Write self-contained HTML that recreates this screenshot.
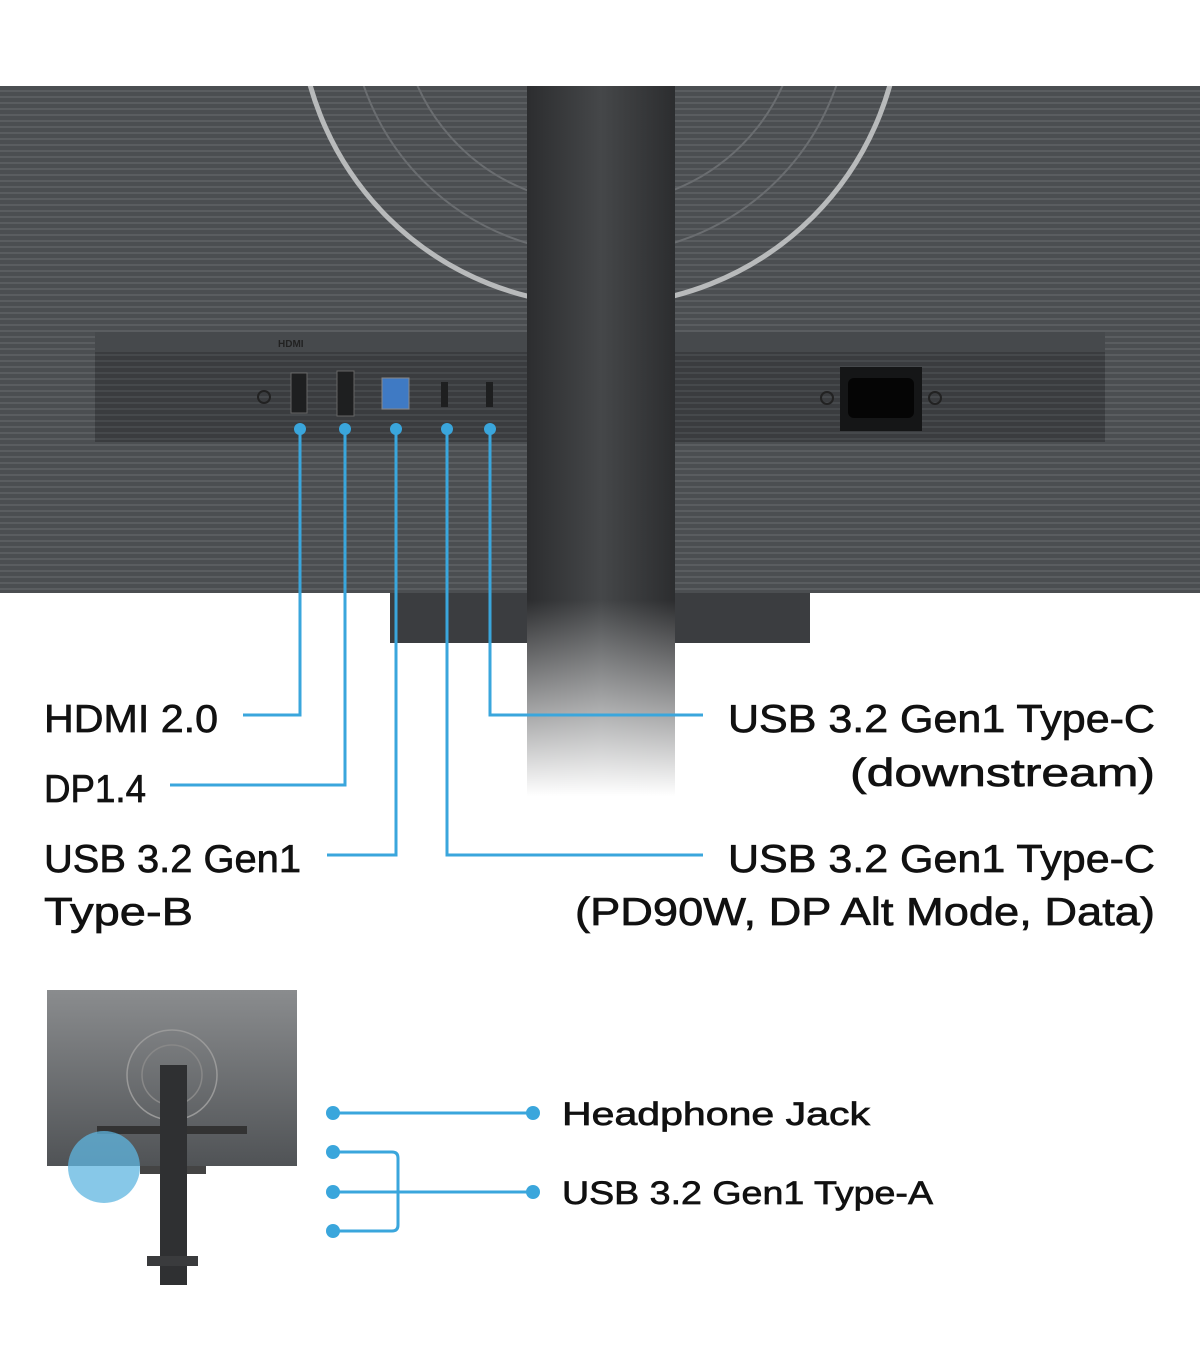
<!DOCTYPE html>
<html><head><style>
body{margin:0;background:#fff;}
svg{display:block}
text{font-family:"Liberation Sans",sans-serif;fill:#111;stroke:#111;stroke-width:0.7;}
</style></head><body>
<svg width="1200" height="1372" viewBox="0 0 1200 1372" xmlns="http://www.w3.org/2000/svg">
<defs>
<pattern id="st" width="6" height="6" patternUnits="userSpaceOnUse">
<rect width="6" height="6" fill="#4b4e51"/><rect width="6" height="2" fill="#5a5d60"/>
</pattern>
<pattern id="st2" width="6" height="6" patternUnits="userSpaceOnUse">
<rect width="6" height="6" fill="#3a3c3f"/><rect width="6" height="2" fill="#46494c"/>
</pattern>
<linearGradient id="neck" x1="0" x2="1">
<stop offset="0" stop-color="#2c2d2f"/><stop offset="0.5" stop-color="#454749"/><stop offset="1" stop-color="#2c2d2f"/>
</linearGradient>
<linearGradient id="fade" x1="0" y1="0" x2="0" y2="1">
<stop offset="0" stop-color="#fff" stop-opacity="0"/><stop offset="1" stop-color="#fff" stop-opacity="1"/>
</linearGradient>
<linearGradient id="mini" x1="0" y1="0" x2="0" y2="1">
<stop offset="0" stop-color="#8a8c8e"/><stop offset="1" stop-color="#505356"/>
</linearGradient>
</defs>
<rect x="0" y="86" width="1200" height="507" fill="url(#st)"/>
<clipPath id="pc"><rect x="0" y="86" width="1200" height="507"/></clipPath>
<g clip-path="url(#pc)">
<circle cx="600" cy="4" r="301" fill="none" stroke="#b8babb" stroke-width="5"/>
<circle cx="600" cy="4" r="250" fill="none" stroke="#6a6d70" stroke-width="2"/>
<circle cx="600" cy="4" r="200" fill="none" stroke="#6a6d70" stroke-width="2"/>
</g>
<rect x="95" y="350" width="1010" height="92" fill="url(#st2)"/>
<rect x="95" y="332" width="1010" height="20" fill="#46494c"/>
<text x="278" y="347" font-size="10" font-weight="bold" style="fill:#222;stroke:none">HDMI</text>
<circle cx="264" cy="397" r="6" fill="none" stroke="#222" stroke-width="2"/>
<rect x="291" y="373" width="16" height="40" fill="#1e1f20" stroke="#666" stroke-width="1"/>
<rect x="337" y="371" width="17" height="45" fill="#1e1f20" stroke="#666" stroke-width="1"/>
<rect x="382" y="378" width="27" height="31" fill="#3f7ac4" stroke="#888" stroke-width="1"/>
<rect x="441" y="382" width="7" height="25" fill="#1e1f20"/>
<rect x="486" y="382" width="7" height="25" fill="#1e1f20"/>
<circle cx="827" cy="398" r="6" fill="none" stroke="#222" stroke-width="2"/>
<circle cx="935" cy="398" r="6" fill="none" stroke="#222" stroke-width="2"/>
<rect x="840" y="367" width="82" height="64" fill="#151617"/>
<rect x="848" y="378" width="66" height="40" rx="6" fill="#050505"/>
<rect x="390" y="593" width="420" height="50" fill="#3b3d40"/>
<rect x="527" y="86" width="148" height="710" fill="url(#neck)"/>
<rect x="527" y="600" width="148" height="196" fill="url(#fade)"/>
<g stroke="#3aa6dc" stroke-width="3" fill="none">
<path d="M300 429 V715 H243"/>
<path d="M345 429 V785 H170"/>
<path d="M396 429 V855 H327"/>
<path d="M447 429 V855 H703"/>
<path d="M490 429 V715 H703"/>
</g>
<g fill="#3aa6dc">
<circle cx="300" cy="429" r="6"/><circle cx="345" cy="429" r="6"/><circle cx="396" cy="429" r="6"/><circle cx="447" cy="429" r="6"/><circle cx="490" cy="429" r="6"/>
</g>
<g font-size="39">
<text x="44" y="732" textLength="174" lengthAdjust="spacingAndGlyphs">HDMI 2.0</text>
<text x="44" y="802" textLength="102" lengthAdjust="spacingAndGlyphs">DP1.4</text>
<text x="44" y="872" textLength="257" lengthAdjust="spacingAndGlyphs">USB 3.2 Gen1</text>
<text x="44" y="925" textLength="149" lengthAdjust="spacingAndGlyphs">Type-B</text>
<text x="728" y="732" textLength="427" lengthAdjust="spacingAndGlyphs">USB 3.2 Gen1 Type-C</text>
<text x="850" y="786" textLength="305" lengthAdjust="spacingAndGlyphs">(downstream)</text>
<text x="728" y="872" textLength="427" lengthAdjust="spacingAndGlyphs">USB 3.2 Gen1 Type-C</text>
<text x="575" y="925" textLength="580" lengthAdjust="spacingAndGlyphs">(PD90W, DP Alt Mode, Data)</text>
</g>
<rect x="47" y="990" width="250" height="176" fill="url(#mini)"/>
<circle cx="172" cy="1075" r="45" fill="none" stroke="#999" stroke-width="1.5"/>
<circle cx="172" cy="1075" r="30" fill="none" stroke="#888" stroke-width="1.5"/>
<rect x="97" y="1126" width="150" height="8" fill="#333"/>
<rect x="140" y="1166" width="66" height="8" fill="#444"/>
<rect x="160" y="1065" width="27" height="220" fill="#2f3032"/>
<rect x="147" y="1256" width="51" height="10" fill="#3a3b3d"/>
<circle cx="104" cy="1167" r="36" fill="#5fb6e0" fill-opacity="0.75"/>
<g stroke="#3aa6dc" stroke-width="3" fill="none">
<path d="M333 1113 H533"/>
<path d="M333 1192 H533"/>
<path d="M333 1152 H392 q6 0 6 6 V1225 q0 6 -6 6 H333"/>
</g>
<g fill="#3aa6dc">
<circle cx="333" cy="1113" r="7"/><circle cx="533" cy="1113" r="7"/>
<circle cx="333" cy="1152" r="7"/><circle cx="333" cy="1192" r="7"/><circle cx="533" cy="1192" r="7"/><circle cx="333" cy="1231" r="7"/>
</g>
<g font-size="32">
<text x="562" y="1125" textLength="308" lengthAdjust="spacingAndGlyphs">Headphone Jack</text>
<text x="562" y="1204" textLength="371" lengthAdjust="spacingAndGlyphs">USB 3.2 Gen1 Type-A</text>
</g>
</svg>
</body></html>
